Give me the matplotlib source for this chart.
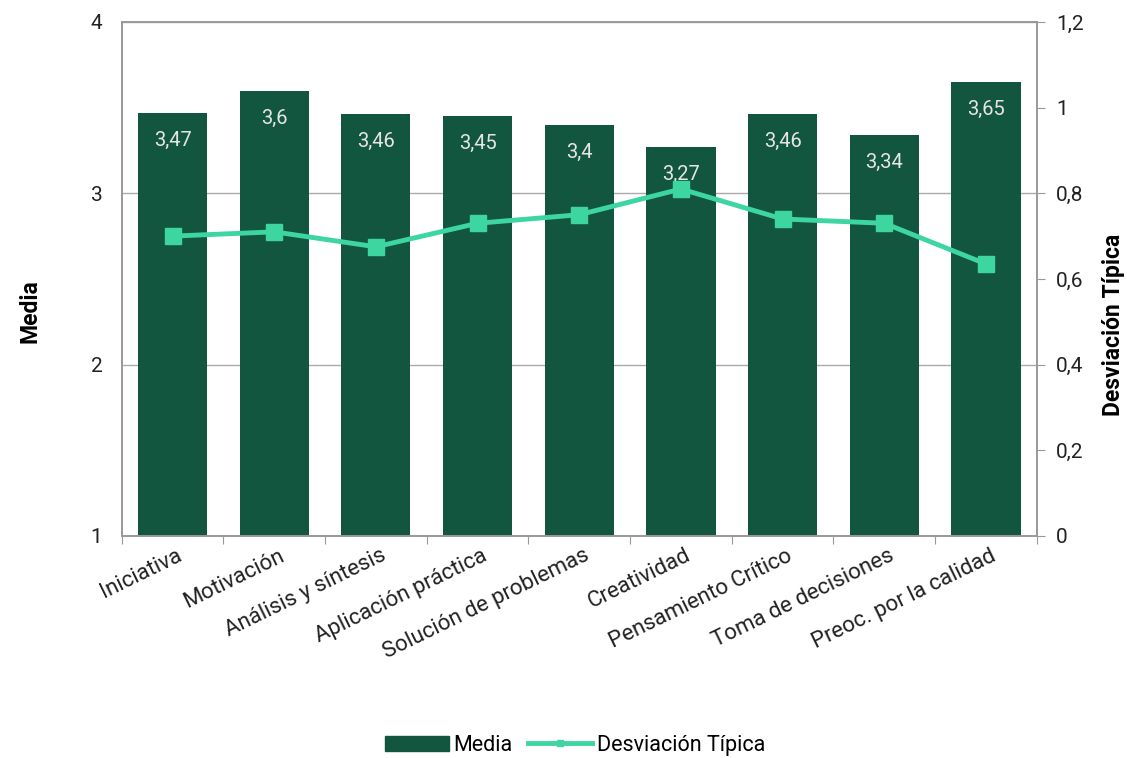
import matplotlib.pyplot as plt
import numpy as np
from matplotlib.patches import Patch
from matplotlib.lines import Line2D

plt.rcParams['font.family'] = ['Roboto', 'DejaVu Sans']

# Datos
categorias = ['Iniciativa', 'Motivación', 'Análisis y síntesis', 'Aplicación práctica',
              'Solución de problemas', 'Creatividad', 'Pensamiento Crítico',
              'Toma de decisiones', 'Preoc. por la calidad']
media = [3.47, 3.6, 3.46, 3.45, 3.4, 3.27, 3.46, 3.34, 3.65]
desviacion = [0.70, 0.71, 0.675, 0.73, 0.75, 0.81, 0.74, 0.73, 0.635]

color_barra = '#13563f'
color_linea = '#3dd6a0'
color_eje = '#999999'

fig = plt.figure(figsize=(11.27, 7.58), dpi=100)
ax = fig.add_axes([0.108, 0.293, 0.812, 0.678])
x = np.arange(len(categorias))

ax.bar(x, media, width=0.68, bottom=0, color=color_barra, zorder=2)
ax.set_ylim(1, 4)
ax.set_xlim(-0.5, len(categorias) - 0.5)
ax.set_yticks([1, 2, 3, 4])
ax.set_yticklabels(['1', '2', '3', '4'])
ax.tick_params(axis='y', length=0, labelsize=15, pad=14, colors='#222222')
ax.grid(axis='y', color='#aaaaaa', linewidth=1, zorder=0)

for xi, v in zip(x, media):
    ax.text(xi, v - 0.16, f'{v:g}'.replace('.', ','), ha='center', va='center',
            color='#e6e6e6', fontsize=14.5, zorder=3)

# Ticks entre categorías
ax.set_xticks(np.arange(-0.5, len(categorias), 1.0))
ax.set_xticklabels([])
ax.tick_params(axis='x', length=6, color=color_eje, direction='out')
for xi, lab in zip(x, categorias):
    ax.text(xi + 0.04, -0.018, lab, rotation=26, ha='right', va='top',
            rotation_mode='anchor', fontsize=16, color='#222222',
            transform=ax.get_xaxis_transform())

for s in ['left', 'bottom', 'right', 'top']:
    ax.spines[s].set_color(color_eje)
    ax.spines[s].set_linewidth(1.2)

ax2 = ax.twinx()
ax2.plot(x, desviacion, color=color_linea, linewidth=3.5, marker='s',
         markersize=12, zorder=4)
ax2.set_ylim(0, 1.2)
ax2.set_yticks(np.arange(0, 1.21, 0.2))
ax2.set_yticklabels(['0', '0,2', '0,4', '0,6', '0,8', '1', '1,2'])
ax2.tick_params(axis='y', length=6, color=color_eje, labelsize=15, pad=8, labelcolor='#222222')
for s in ['left', 'bottom', 'right', 'top']:
    ax2.spines[s].set_color(color_eje)
    ax2.spines[s].set_linewidth(1.2)

fig.text(0.027, 0.59, 'Media', rotation=90, ha='center', va='center',
         fontsize=16.5, fontweight='bold')
fig.text(0.988, 0.572, 'Desviación Típica', rotation=90, ha='center', va='center',
         fontsize=16.5, fontweight='bold')

handles = [Patch(color=color_barra, label='Media'),
           Line2D([0], [0], color=color_linea, linewidth=3.5, marker='s',
                  markersize=5, label='Desviación Típica')]
fig.legend(handles=handles, loc='center', bbox_to_anchor=(0.51, 0.017), ncol=2,
           frameon=False, fontsize=15.5, handlelength=3.0, columnspacing=0.7,
           handletextpad=0.2)

fig.savefig('out.png', dpi=100)
